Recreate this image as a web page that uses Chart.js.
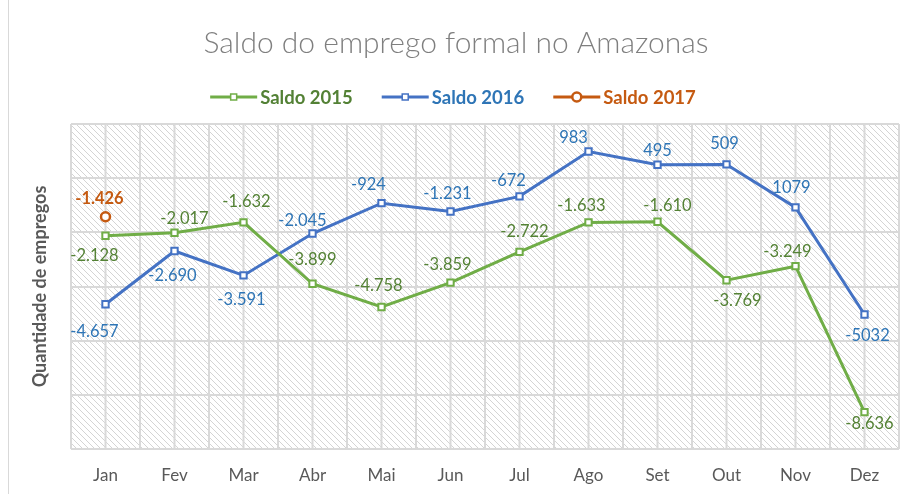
<!DOCTYPE html>
<html>
<head>
<meta charset="utf-8">
<script src="https://cdn.jsdelivr.net/npm/chart.js@4.4.0/dist/chart.umd.min.js"></script>
<style>
  html, body { margin: 0; padding: 0; background: #fff; }
</style>
</head>
<body>
<canvas id="chartSaldo" width="906" height="494"></canvas>
<script>
const meses = ['Jan', 'Fev', 'Mar', 'Abr', 'Mai', 'Jun', 'Jul', 'Ago', 'Set', 'Out', 'Nov', 'Dez'];
// saldo em milhares de empregos
const saldo2015 = [-2.128, -2.017, -1.632, -3.899, -4.758, -3.859, -2.722, -1.633, -1.610, -3.769, -3.249, -8.636];
const saldo2016 = [-4.657, -2.690, -3.591, -2.045, -0.924, -1.231, -0.672, 0.983, 0.495, 0.509, -1.079, -5.032];
const saldo2017 = [-1.426, null, null, null, null, null, null, null, null, null, null, null];
// rótulos como aparecem no gráfico original
const rotulos2015 = ['-2.128', '-2.017', '-1.632', '-3.899', '-4.758', '-3.859', '-2.722', '-1.633', '-1.610', '-3.769', '-3.249', '-8.636'];
const rotulos2016 = ['-4.657', '-2.690', '-3.591', '-2.045', '-924', '-1.231', '-672', '983', '495', '509', '1079', '-5032'];
const rotulos2017 = ['-1.426'];
const eixoY = { min: -10, max: 2, passo: 2 };

// posição dos rótulos em relação ao ponto [dx, dy]
const pos2015 = [[-11, 20], [10, -14], [3, -21], [0, -24], [-3, -21], [-3, -18], [5, -20], [-7, -17], [10, -16], [11, 20], [-8, -14], [5, 12]];
const pos2016 = [[-11, 27], [-2, 25], [-2, 24], [-10, -13], [-13, -19], [-3, -18], [-11, -16], [-15, -14], [0, -14], [-2, -21], [-4, -20], [3, 21]];
const pos2017 = [[-6, -18]];

const CINZA_GRADE = '#d9d9d9';

function hachura() {
  const c = document.createElement('canvas');
  c.width = 6; c.height = 6;
  const g = c.getContext('2d');
  g.strokeStyle = '#d4d4d4';
  g.lineWidth = 1;
  g.beginPath();
  g.moveTo(-1, -1); g.lineTo(7, 7);
  g.moveTo(-1, 5); g.lineTo(1, 7);
  g.moveTo(5, -1); g.lineTo(7, 1);
  g.stroke();
  return c;
}

const fundoHachurado = {
  id: 'fundoHachurado',
  beforeDraw(chart) {
    const { ctx, chartArea: a } = chart;
    ctx.save();
    ctx.fillStyle = ctx.createPattern(hachura(), 'repeat');
    ctx.fillRect(a.left, a.top, a.right - a.left, a.bottom - a.top);
    ctx.restore();
  }
};

// linhas verticais no centro de cada mês
const gradeCentral = {
  id: 'gradeCentral',
  beforeDatasetsDraw(chart) {
    const { ctx, chartArea: a, scales } = chart;
    ctx.save();
    ctx.strokeStyle = CINZA_GRADE;
    ctx.lineWidth = 2;
    meses.forEach((m, i) => {
      const x = scales.x.getPixelForValue(i);
      ctx.beginPath();
      ctx.moveTo(x, a.top);
      ctx.lineTo(x, a.bottom);
      ctx.stroke();
    });
    ctx.restore();
  }
};

const rotulos = {
  id: 'rotulos',
  afterDatasetsDraw(chart) {
    const ctx = chart.ctx;
    ctx.save();
    ctx.textAlign = 'center';
    ctx.textBaseline = 'middle';
    chart.data.datasets.forEach((ds, d) => {
      const meta = chart.getDatasetMeta(d);
      ctx.fillStyle = ds.corRotulo;
      ctx.font = (ds.rotuloNegrito ? 'bold ' : '') + '16.5px Lato';
      meta.data.forEach((pt, i) => {
        if (ds.data[i] === null || !ds.rotulos[i]) return;
        const [dx, dy] = ds.posRotulos[i];
        ctx.fillText(ds.rotulos[i], pt.x + dx, pt.y + dy);
      });
    });
    ctx.restore();
  }
};

const legenda = {
  id: 'legenda',
  afterDraw(chart) {
    const ctx = chart.ctx;
    const y = 97, linha = 47, gap = 3, entre = 29;
    ctx.save();
    ctx.font = 'bold 18.5px Lato';
    ctx.textBaseline = 'middle';
    const itens = chart.data.datasets.map(ds => ({ ds, w: linha + gap + ctx.measureText(ds.label).width }));
    const total = itens.reduce((s, it) => s + it.w, 0) + entre * (itens.length - 1);
    let x = chart.width / 2 - total / 2;
    itens.forEach(({ ds, w }) => {
      ctx.strokeStyle = ds.borderColor;
      ctx.lineWidth = 3;
      ctx.beginPath();
      ctx.moveTo(x, y); ctx.lineTo(x + linha, y);
      ctx.stroke();
      ctx.fillStyle = '#fff';
      ctx.beginPath();
      if (ds.pointStyle === 'circle') {
        ctx.lineWidth = 2.5;
        ctx.arc(x + linha / 2, y, 4.5, 0, Math.PI * 2);
      } else {
        ctx.lineWidth = 1.5;
        ctx.rect(x + linha / 2 - 3, y - 3, 6, 6);
      }
      ctx.fill();
      ctx.stroke();
      ctx.fillStyle = ds.corLegenda;
      ctx.fillText(ds.label, x + linha + gap, y + 1);
      x += w + entre;
    });
    // borda esquerda da área do gráfico
    ctx.strokeStyle = CINZA_GRADE;
    ctx.lineWidth = 1;
    ctx.beginPath();
    ctx.moveTo(8.5, 0); ctx.lineTo(8.5, chart.height);
    ctx.stroke();
    ctx.restore();
  }
};

Chart.defaults.font.family = 'Lato';

new Chart('chartSaldo', {
  type: 'line',
  data: {
    labels: meses,
    datasets: [
      {
        label: 'Saldo 2015', data: saldo2015, rotulos: rotulos2015, posRotulos: pos2015,
        borderColor: '#70ad47', pointBorderColor: '#70ad47', pointBackgroundColor: '#fff',
        corRotulo: '#548235', corLegenda: '#538135',
        borderWidth: 3, pointStyle: 'rect', pointRadius: 4.5, pointBorderWidth: 2
      },
      {
        label: 'Saldo 2016', data: saldo2016, rotulos: rotulos2016, posRotulos: pos2016,
        borderColor: '#4472c4', pointBorderColor: '#4472c4', pointBackgroundColor: '#fff',
        corRotulo: '#2e75b6', corLegenda: '#2e75b6',
        borderWidth: 3, pointStyle: 'rect', pointRadius: 4.5, pointBorderWidth: 2
      },
      {
        label: 'Saldo 2017', data: saldo2017, rotulos: rotulos2017, posRotulos: pos2017,
        borderColor: '#c55a11', pointBorderColor: '#c55a11', pointBackgroundColor: '#fff',
        corRotulo: '#c55a11', corLegenda: '#c55a11', rotuloNegrito: true,
        borderWidth: 3, pointStyle: 'circle', pointRadius: 4.5, pointBorderWidth: 2.5
      }
    ]
  },
  options: {
    responsive: false,
    animation: false,
    layout: { padding: { top: 0, left: 8, right: 2, bottom: 0 } },
    plugins: {
      legend: { display: false },
      tooltip: { enabled: false },
      title: {
        display: true,
        text: 'Saldo do emprego formal no Amazonas',
        color: '#7f7f7f',
        font: { size: 30, weight: '300' },
        padding: { top: 25, bottom: 63 }
      }
    },
    scales: {
      x: {
        offset: true,
        grid: { offset: true, color: CINZA_GRADE, lineWidth: 2, drawTicks: false },
        border: { display: false },
        ticks: { color: '#595959', font: { size: 17 }, padding: 16 },
        afterFit(s) { s.height = 45; }
      },
      y: {
        min: eixoY.min, max: eixoY.max,
        grid: { color: CINZA_GRADE, lineWidth: 2, drawTicks: false },
        border: { display: false },
        ticks: { display: false, stepSize: eixoY.passo },
        title: {
          display: true, text: 'Quantidade de empregos', color: '#595959',
          font: { size: 18, weight: 'bold' }, padding: { top: 21 }
        },
        afterFit(s) { s.width = 63; }
      }
    }
  },
  plugins: [fundoHachurado, gradeCentral, rotulos, legenda]
});
</script>
</body>
</html>
